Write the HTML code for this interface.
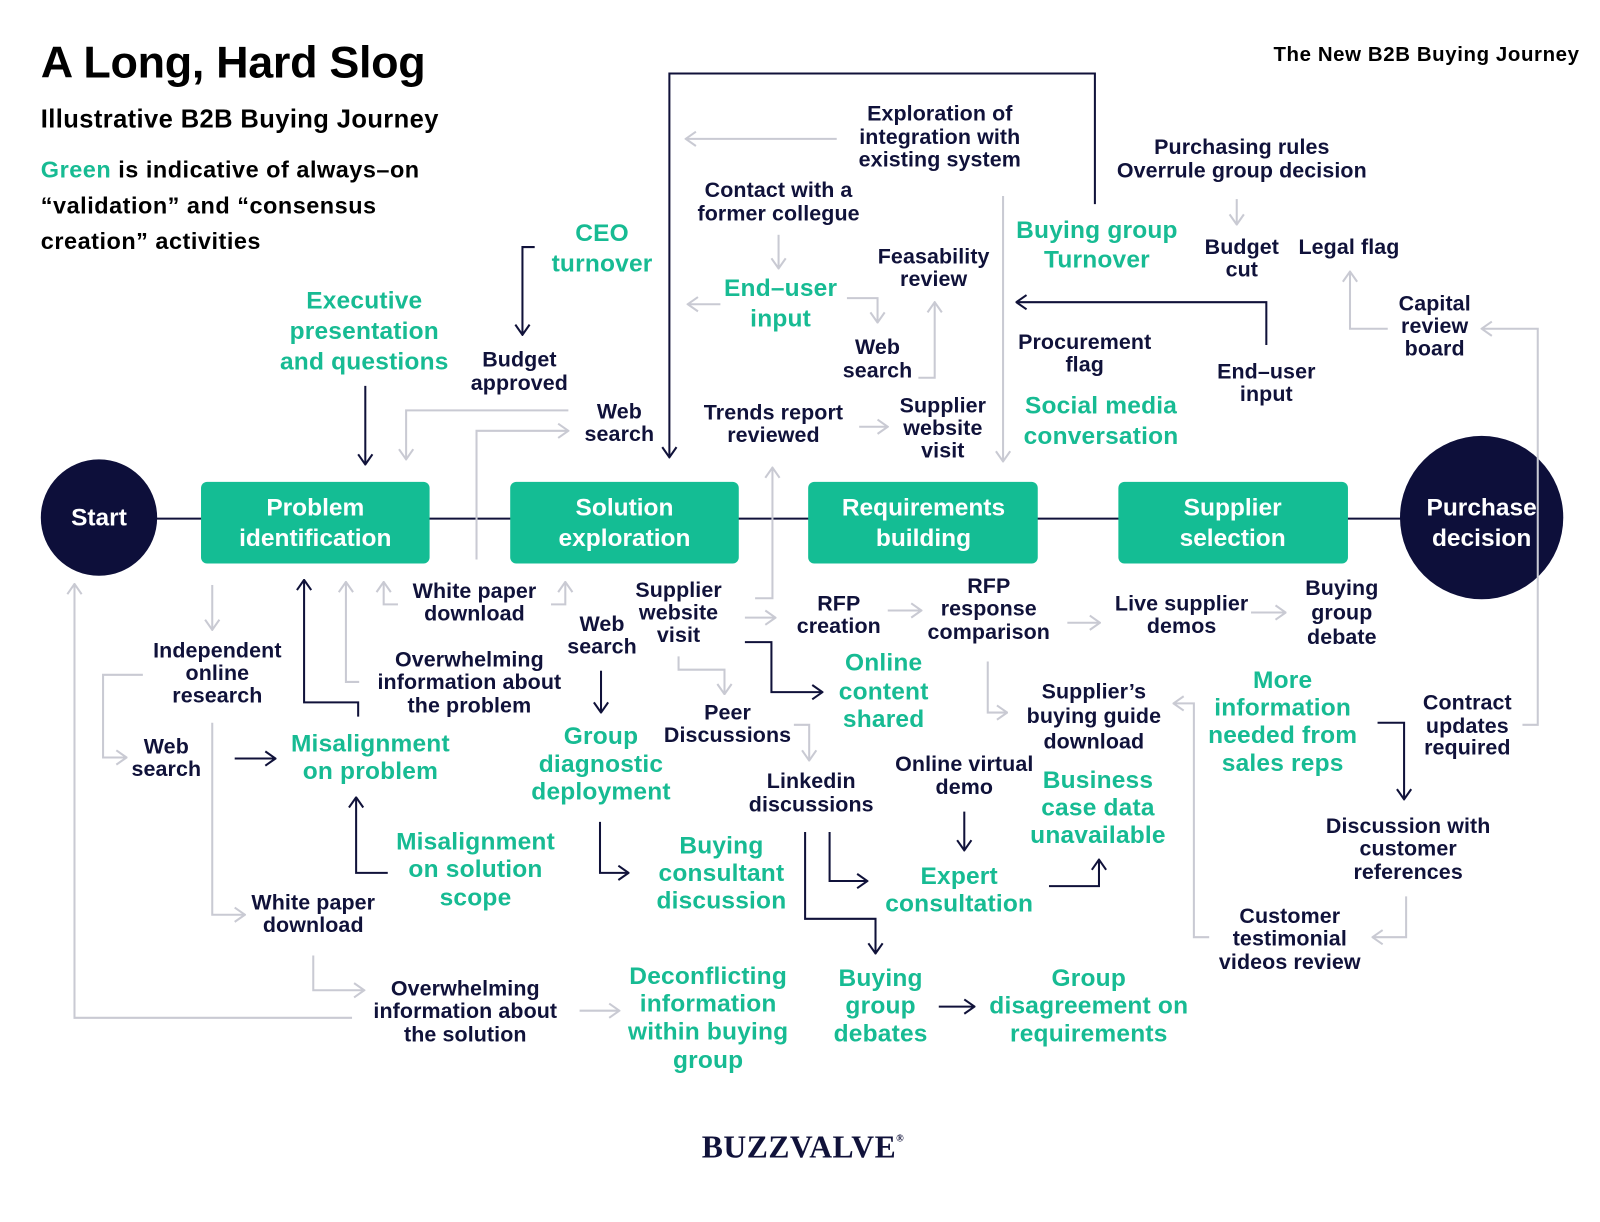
<!DOCTYPE html>
<html><head><meta charset="utf-8"><style>
html,body{margin:0;padding:0;background:#fff;}
svg{display:block;}
text{font-family:"Liberation Sans",Arial,sans-serif;font-weight:bold;}
.n{fill:#10123a;font-size:21px;text-anchor:middle;letter-spacing:0.1px;}
.g{fill:#17bb93;font-size:24px;text-anchor:middle;letter-spacing:0.2px;}
.w{fill:#fff;font-size:24px;text-anchor:middle;letter-spacing:0px;}
.ln{fill:none;stroke:#10123a;stroke-width:2;}
.lg{fill:none;stroke:#c9cad3;stroke-width:2;}
.an{marker-end:url(#mn);}
.ag{marker-end:url(#mg);}
</style></head><body>
<svg width="1600" height="1222" viewBox="0 0 1568 1197" preserveAspectRatio="none" xmlns="http://www.w3.org/2000/svg">
<defs>
<marker id="mn" markerUnits="userSpaceOnUse" viewBox="0 0 12 16" refX="11" refY="8" markerWidth="12" markerHeight="16" orient="auto"><path d="M1,1 L11,8 L1,15" fill="none" stroke="#10123a" stroke-width="2"/></marker>
<marker id="mg" markerUnits="userSpaceOnUse" viewBox="0 0 12 16" refX="11" refY="8" markerWidth="12" markerHeight="16" orient="auto"><path d="M1,1 L11,8 L1,15" fill="none" stroke="#c9cad3" stroke-width="2"/></marker>
</defs>

<!-- header -->
<text x="40" y="76" style="font-size:44px;fill:#000;letter-spacing:-0.3px">A Long, Hard Slog</text>
<text x="40" y="125" style="font-size:25px;fill:#000;letter-spacing:0.4px">Illustrative B2B Buying Journey</text>
<text x="40" y="174" style="font-size:23px;fill:#000;letter-spacing:0.5px"><tspan fill="#17bb93">Green</tspan> is indicative of always–on</text>
<text x="40" y="209" style="font-size:23px;fill:#000;letter-spacing:0.5px">“validation” and “consensus</text>
<text x="40" y="244" style="font-size:23px;fill:#000;letter-spacing:0.5px">creation” activities</text>
<text x="1548" y="60" style="font-size:20px;fill:#000;text-anchor:end;letter-spacing:0.6px">The New B2B Buying Journey</text>

<!-- main line -->
<line x1="97" y1="508" x2="1450" y2="508" class="ln"/>
<circle cx="97" cy="507" r="57" fill="#0d0f3a"/>
<text x="97" y="515" class="w">Start</text>
<rect x="197" y="472" width="224" height="80" rx="6" fill="#14bd94"/>
<text class="w"><tspan x="309" y="505">Problem</tspan><tspan x="309" y="535">identification</tspan></text>
<rect x="500" y="472" width="224" height="80" rx="6" fill="#14bd94"/>
<text class="w"><tspan x="612" y="505">Solution</tspan><tspan x="612" y="535">exploration</tspan></text>
<rect x="792" y="472" width="225" height="80" rx="6" fill="#14bd94"/>
<text class="w"><tspan x="905" y="505">Requirements</tspan><tspan x="905" y="535">building</tspan></text>
<rect x="1096" y="472" width="225" height="80" rx="6" fill="#14bd94"/>
<text class="w"><tspan x="1208" y="505">Supplier</tspan><tspan x="1208" y="535">selection</tspan></text>
<circle cx="1452" cy="507" r="80" fill="#0d0f3a"/>
<text class="w"><tspan x="1452" y="505">Purchase</tspan><tspan x="1452" y="535">decision</tspan></text>

<!-- top connectors -->
<path d="M524,242 L512,242 L512,328" class="ln an"/>
<path d="M358,378 L358,455" class="ln an"/>
<path d="M557,402 L398,402 L398,450" class="lg ag"/>
<path d="M467,548 L467,422 L557,422" class="lg ag"/>
<path d="M1073,200 L1073,72 L656,72 L656,448" class="ln an"/>
<path d="M820,136 L672,136" class="lg ag"/>
<path d="M763,230 L763,263" class="lg ag"/>
<path d="M706,298 L674,298" class="lg ag"/>
<path d="M830,292 L860,292 L860,316" class="lg ag"/>
<path d="M900,370 L916,370 L916,296" class="lg ag"/>
<path d="M842,418 L870,418" class="lg ag"/>
<path d="M983,192 L983,452" class="lg ag"/>
<path d="M1212,195 L1212,220" class="lg ag"/>
<path d="M1241,338 L1241,296 L996,296" class="ln an"/>
<path d="M1360,322 L1323,322 L1323,266" class="lg ag"/>
<path d="M1492,710 L1507,710 L1507,322 L1452,322" class="lg ag"/>
<path d="M740,586 L757,586 L757,458" class="lg ag"/>

<!-- top labels -->
<text class="g"><tspan x="590" y="236">CEO</tspan><tspan x="590" y="266">turnover</tspan></text>
<text class="g"><tspan x="357" y="302">Executive</tspan><tspan x="357" y="332">presentation</tspan><tspan x="357" y="362">and questions</tspan></text>
<text class="n"><tspan x="509" y="359">Budget</tspan><tspan x="509" y="382">approved</tspan></text>
<text class="n"><tspan x="607" y="410">Web</tspan><tspan x="607" y="432">search</tspan></text>
<text class="n"><tspan x="921" y="118">Exploration of</tspan><tspan x="921" y="141">integration with</tspan><tspan x="921" y="163">existing system</tspan></text>
<text class="n"><tspan x="763" y="193">Contact with a</tspan><tspan x="763" y="216">former collegue</tspan></text>
<text class="g"><tspan x="765" y="290">End–user</tspan><tspan x="765" y="320">input</tspan></text>
<text class="n"><tspan x="915" y="258">Feasability</tspan><tspan x="915" y="280">review</tspan></text>
<text class="n"><tspan x="860" y="347">Web</tspan><tspan x="860" y="370">search</tspan></text>
<text class="n"><tspan x="758" y="411">Trends report</tspan><tspan x="758" y="433">reviewed</tspan></text>
<text class="n"><tspan x="924" y="404">Supplier</tspan><tspan x="924" y="426">website</tspan><tspan x="924" y="448">visit</tspan></text>
<text class="g"><tspan x="1075" y="233">Buying group</tspan><tspan x="1075" y="262">Turnover</tspan></text>
<text class="n"><tspan x="1217" y="151">Purchasing rules</tspan><tspan x="1217" y="174">Overrule group decision</tspan></text>
<text class="n"><tspan x="1217" y="249">Budget</tspan><tspan x="1217" y="271">cut</tspan></text>
<text class="n" x="1322" y="249">Legal flag</text>
<text class="n"><tspan x="1063" y="342">Procurement</tspan><tspan x="1063" y="364">flag</tspan></text>
<text class="n"><tspan x="1241" y="371">End–user</tspan><tspan x="1241" y="393">input</tspan></text>
<text class="g"><tspan x="1079" y="405">Social media</tspan><tspan x="1079" y="435">conversation</tspan></text>
<text class="n"><tspan x="1406" y="304">Capital</tspan><tspan x="1406" y="326">review</tspan><tspan x="1406" y="348">board</tspan></text>

<!-- bottom connectors -->
<path d="M208,573 L208,617" class="lg ag"/>
<path d="M140,661 L101,661 L101,742 L124,742" class="lg ag"/>
<path d="M230,743 L270,743" class="ln an"/>
<path d="M208,708 L208,896 L240,896" class="lg ag"/>
<path d="M307,936 L307,970 L357,970" class="lg ag"/>
<path d="M345,997 L73,997 L73,572" class="lg ag"/>
<path d="M568,990 L607,990" class="lg ag"/>
<path d="M380,855 L349,855 L349,781" class="ln an"/>
<path d="M351,702 L351,688 L298,688 L298,568" class="ln an"/>
<path d="M352,668 L339,668 L339,570" class="lg ag"/>
<path d="M390,592 L376,592 L376,570" class="lg ag"/>
<path d="M540,592 L554,592 L554,570" class="lg ag"/>
<path d="M589,657 L589,698" class="ln an"/>
<path d="M665,643 L665,656 L710,656 L710,680" class="lg ag"/>
<path d="M730,629 L756,629 L756,678 L806,678" class="ln an"/>
<path d="M730,605 L760,605" class="lg ag"/>
<path d="M870,598 L903,598" class="lg ag"/>
<path d="M1046,610 L1078,610" class="lg ag"/>
<path d="M1226,600 L1260,600" class="lg ag"/>
<path d="M778,710 L793,710 L793,745" class="lg ag"/>
<path d="M588,805 L588,855 L616,855" class="ln an"/>
<path d="M813,815 L813,863 L850,863" class="ln an"/>
<path d="M789,815 L789,900 L858,900 L858,934" class="ln an"/>
<path d="M945,795 L945,833" class="ln an"/>
<path d="M1028,868 L1077,868 L1077,842" class="ln an"/>
<path d="M968,648 L968,698 L987,698" class="lg ag"/>
<path d="M1185,918 L1170,918 L1170,689 L1150,689" class="lg ag"/>
<path d="M1350,708 L1376,708 L1376,783" class="ln an"/>
<path d="M1378,878 L1378,918 L1345,918" class="lg ag"/>
<path d="M920,986 L955,986" class="ln an"/>

<!-- bottom labels -->
<text class="n"><tspan x="213" y="644">Independent</tspan><tspan x="213" y="666">online</tspan><tspan x="213" y="688">research</tspan></text>
<text class="n"><tspan x="163" y="738">Web</tspan><tspan x="163" y="760">search</tspan></text>
<text class="g"><tspan x="363" y="736">Misalignment</tspan><tspan x="363" y="763">on problem</tspan></text>
<text class="n"><tspan x="307" y="891">White paper</tspan><tspan x="307" y="913">download</tspan></text>
<text class="n"><tspan x="456" y="975">Overwhelming</tspan><tspan x="456" y="997">information about</tspan><tspan x="456" y="1020">the solution</tspan></text>
<text class="g"><tspan x="694" y="964">Deconflicting</tspan><tspan x="694" y="991">information</tspan><tspan x="694" y="1018">within buying</tspan><tspan x="694" y="1046">group</tspan></text>
<text class="g"><tspan x="466" y="832">Misalignment</tspan><tspan x="466" y="859">on solution</tspan><tspan x="466" y="887">scope</tspan></text>
<text class="n"><tspan x="465" y="586">White paper</tspan><tspan x="465" y="608">download</tspan></text>
<text class="n"><tspan x="460" y="653">Overwhelming</tspan><tspan x="460" y="675">information about</tspan><tspan x="460" y="698">the problem</tspan></text>
<text class="n"><tspan x="590" y="618">Web</tspan><tspan x="590" y="640">search</tspan></text>
<text class="n"><tspan x="665" y="585">Supplier</tspan><tspan x="665" y="607">website</tspan><tspan x="665" y="629">visit</tspan></text>
<text class="n"><tspan x="822" y="598">RFP</tspan><tspan x="822" y="620">creation</tspan></text>
<text class="n"><tspan x="969" y="581">RFP</tspan><tspan x="969" y="603">response</tspan><tspan x="969" y="626">comparison</tspan></text>
<text class="n"><tspan x="1158" y="598">Live supplier</tspan><tspan x="1158" y="620">demos</tspan></text>
<text class="n"><tspan x="1315" y="583">Buying</tspan><tspan x="1315" y="607">group</tspan><tspan x="1315" y="631">debate</tspan></text>
<text class="g"><tspan x="866" y="657">Online</tspan><tspan x="866" y="685">content</tspan><tspan x="866" y="712">shared</tspan></text>
<text class="g"><tspan x="589" y="729">Group</tspan><tspan x="589" y="756">diagnostic</tspan><tspan x="589" y="783">deployment</tspan></text>
<text class="n"><tspan x="713" y="705">Peer</tspan><tspan x="713" y="727">Discussions</tspan></text>
<text class="n"><tspan x="795" y="772">Linkedin</tspan><tspan x="795" y="795">discussions</tspan></text>
<text class="g"><tspan x="707" y="836">Buying</tspan><tspan x="707" y="863">consultant</tspan><tspan x="707" y="890">discussion</tspan></text>
<text class="g"><tspan x="940" y="866">Expert</tspan><tspan x="940" y="893">consultation</tspan></text>
<text class="n"><tspan x="945" y="755">Online virtual</tspan><tspan x="945" y="778">demo</tspan></text>
<text class="g"><tspan x="1076" y="772">Business</tspan><tspan x="1076" y="799">case data</tspan><tspan x="1076" y="826">unavailable</tspan></text>
<text class="n"><tspan x="1072" y="684">Supplier’s</tspan><tspan x="1072" y="708">buying guide</tspan><tspan x="1072" y="733">download</tspan></text>
<text class="g"><tspan x="1257" y="674">More</tspan><tspan x="1257" y="701">information</tspan><tspan x="1257" y="728">needed from</tspan><tspan x="1257" y="755">sales reps</tspan></text>
<text class="n"><tspan x="1438" y="695">Contract</tspan><tspan x="1438" y="718">updates</tspan><tspan x="1438" y="739">required</tspan></text>
<text class="n"><tspan x="1380" y="816">Discussion with</tspan><tspan x="1380" y="838">customer</tspan><tspan x="1380" y="861">references</tspan></text>
<text class="n"><tspan x="1264" y="904">Customer</tspan><tspan x="1264" y="926">testimonial</tspan><tspan x="1264" y="949">videos review</tspan></text>
<text class="g"><tspan x="863" y="966">Buying</tspan><tspan x="863" y="993">group</tspan><tspan x="863" y="1020">debates</tspan></text>
<text class="g"><tspan x="1067" y="966">Group</tspan><tspan x="1067" y="993">disagreement on</tspan><tspan x="1067" y="1020">requirements</tspan></text>

<text x="787" y="1134" style="font-family:'Liberation Serif',serif;font-weight:bold;font-size:31px;fill:#10123a;text-anchor:middle;letter-spacing:0.5px">BUZZVALVE<tspan style="font-size:10px" dy="-16">®</tspan></text>
</svg>
</body></html>
